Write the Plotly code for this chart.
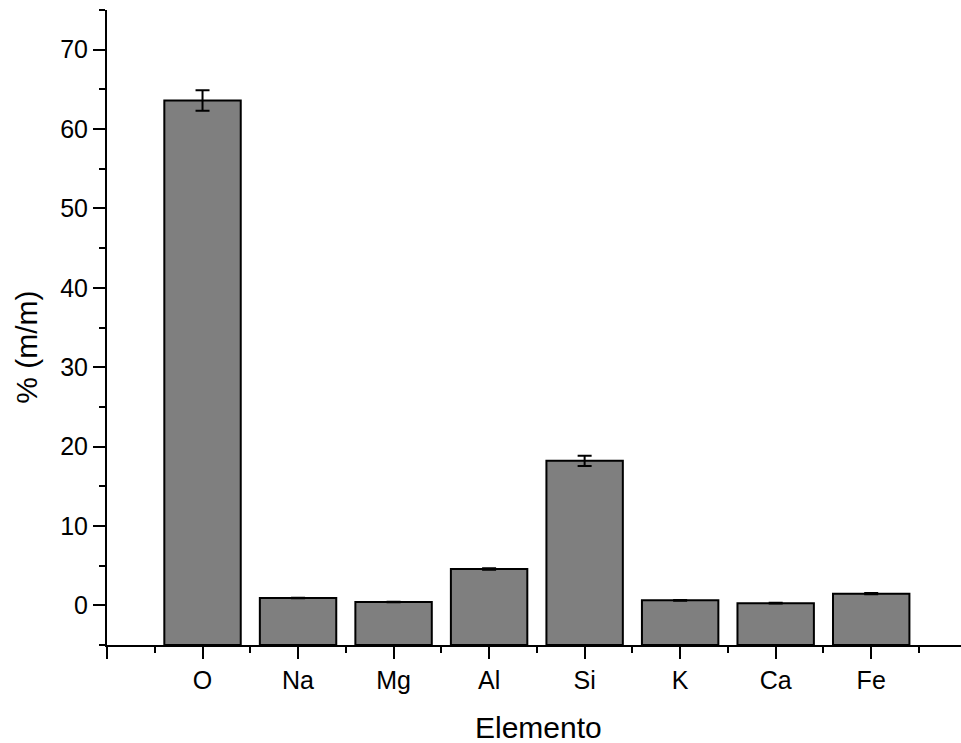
import plotly.graph_objects as go

# Elemental composition (mass %) with standard deviations
elements = ["O", "Na", "Mg", "Al", "Si", "K", "Ca", "Fe"]
mass_pct = [63.6, 0.92, 0.42, 4.58, 18.2, 0.63, 0.27, 1.47]
mass_err = [1.3, 0.03, 0.03, 0.1, 0.65, 0.05, 0.05, 0.08]

y_floor = -5  # bars rise from the bottom of the value axis
x_pos = list(range(len(elements)))

FONT = "Liberation Sans, Arial, sans-serif"

fig = go.Figure()

fig.add_trace(go.Bar(
    x=x_pos,
    y=[v - y_floor for v in mass_pct],
    base=y_floor,
    width=0.8,
    marker=dict(color="#7f7f7f", line=dict(color="black", width=2)),
    hoverinfo="skip",
    showlegend=False,
))

# error bars on top of each bar
fig.add_trace(go.Scatter(
    x=x_pos,
    y=mass_pct,
    mode="markers",
    marker=dict(size=1, opacity=0),
    error_y=dict(type="data", array=mass_err, visible=True,
                 color="black", thickness=2, width=7),
    showlegend=False,
))

fig.update_layout(
    width=961, height=743,
    margin=dict(l=107, r=0, t=10, b=98),
    plot_bgcolor="white", paper_bgcolor="white",
    font=dict(family=FONT, size=25, color="black"),
    bargap=0.2,
)

fig.update_xaxes(
    range=[-1, 7.94],
    tickmode="array",
    tickvals=[-1] + x_pos,
    ticktext=[""] + elements,
    ticks="outside", ticklen=12, tickwidth=2, tickcolor="black",
    showline=True, linecolor="black", linewidth=2,
    showgrid=False, zeroline=False,
    tickfont=dict(family=FONT, size=25),
    minor=dict(tickmode="linear", tick0=-0.5, dtick=1, ticks="outside",
               ticklen=6, tickwidth=2, tickcolor="black", showgrid=False),
)

fig.update_yaxes(
    range=[-5, 75],
    tickmode="array",
    tickvals=[0, 10, 20, 30, 40, 50, 60, 70],
    ticks="outside", ticklen=12, tickwidth=2, tickcolor="black",
    showline=True, linecolor="black", linewidth=2,
    showgrid=False, zeroline=False,
    tickfont=dict(family=FONT, size=25),
    minor=dict(tickmode="linear", tick0=-5, dtick=10, ticks="outside",
               ticklen=6, tickwidth=2, tickcolor="black", showgrid=False),
)

fig.add_annotation(
    text="Elemento", xref="paper", yref="paper", x=0.505, y=0,
    xanchor="center", yanchor="middle", yshift=-82, showarrow=False,
    font=dict(family=FONT, size=30, color="black"),
)
fig.add_annotation(
    text="% (m/m)", xref="paper", yref="paper", x=0, y=0.468,
    xanchor="center", yanchor="middle", xshift=-80, textangle=-90,
    showarrow=False,
    font=dict(family=FONT, size=30, color="black"),
)

fig.write_html("out.html")
